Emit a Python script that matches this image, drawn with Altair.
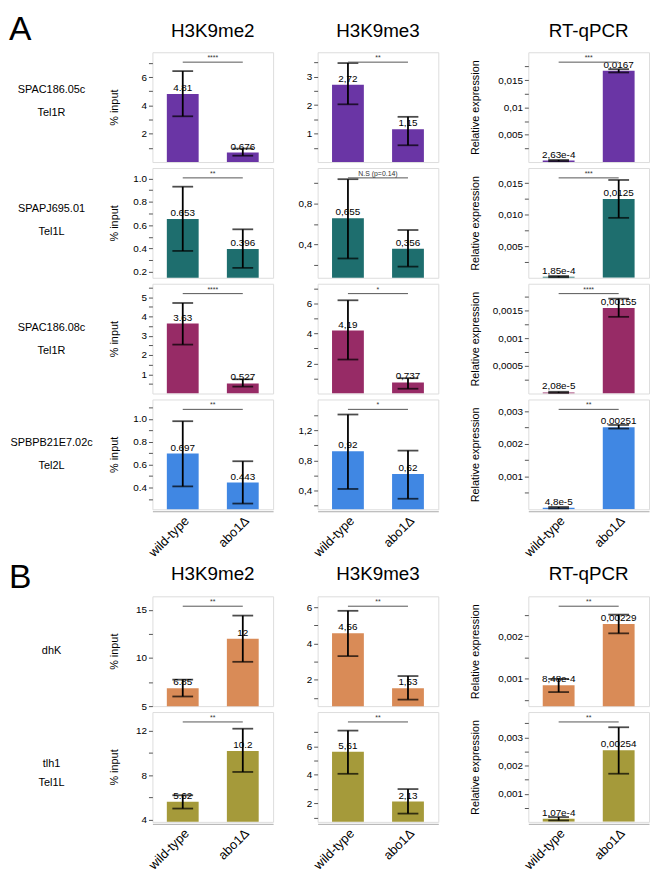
import altair as alt
import pandas as pd

# ---------------- data ----------------
GENOTYPES = ["wild-type", "abo1Δ"]
ROW_LINE1 = ["SPAC186.05c", "SPAPJ695.01", "SPAC186.08c", "SPBPB21E7.02c", "dhK", "tlh1"]
ROW_LINE2 = ["Tel1R", "Tel1L", "Tel1R", "Tel2L", "", "Tel1L"]
COL_TITLES = ["H3K9me2", "H3K9me3", "RT-qPCR"]
SECTION_LETTERS = ["A", "B"]

# H3K9me2 (% input)
ME2_MEAN = [[4.81, 0.676], [0.653, 0.396], [3.63, 0.527], [0.697, 0.443], [6.85, 12.0], [5.62, 10.2]]
ME2_LOW = [[3.23, 0.45], [0.38, 0.235], [2.54, 0.36], [0.41, 0.26], [6.0, 9.6], [5.0, 8.3]]
ME2_HIGH = [[6.42, 0.95], [0.93, 0.565], [4.7, 0.74], [0.98, 0.63], [7.75, 14.4], [6.2, 12.2]]
ME2_TEXT = [["4.81", "0.676"], ["0.653", "0.396"], ["3.63", "0.527"], ["0.697", "0.443"], ["6.85", "12"], ["5.62", "10.2"]]
ME2_SIG = ["****", "**", "****", "**", "**", "**"]
ME2_DOMAIN = [[0, 7.75], [0.15, 1.09], [0, 5.7], [0.21, 1.17], [5, 16.4], [3.8, 13.7]]
ME2_MAJOR = [[2, 4, 6], [0.2, 0.4, 0.6, 0.8, 1.0], [1, 2, 3, 4, 5], [0.4, 0.6, 0.8, 1.0], [5, 10, 15], [4, 8, 12]]
ME2_MINOR = [[1, 3, 5, 7], [0.3, 0.5, 0.7, 0.9], [0.5, 1.5, 2.5, 3.5, 4.5, 5.5], [0.3, 0.5, 0.7, 0.9, 1.1], [7.5, 12.5], [6, 10]]
ME2_FMT = ["~g", ".1f", "~g", ".1f", "~g", "~g"]

# H3K9me3
ME3_MEAN = [[2.72, 1.15], [0.655, 0.356], [4.19, 0.737], [0.92, 0.62], [4.56, 1.53], [5.61, 2.13]]
ME3_LOW = [[2.03, 0.59], [0.26, 0.18], [2.26, 0.32], [0.42, 0.29], [3.3, 0.9], [4.07, 1.28]]
ME3_HIGH = [[3.48, 1.59], [1.04, 0.54], [6.2, 1.02], [1.41, 0.93], [5.8, 2.2], [7.1, 3.0]]
ME3_TEXT = [["2,72", "1,15"], ["0,655", "0,356"], ["4,19", "0,737"], ["0,92", "0,62"], ["4,56", "1,53"], ["5,61", "2,13"]]
ME3_SIG = ["**", "N.S (p=0.14)", "*", "*", "**", "**"]
ME3_DOMAIN = [[0, 3.86], [0.07, 1.15], [0, 7.3], [0.15, 1.61], [0.54, 6.6], [0.7, 8.4]]
ME3_MAJOR = [[1, 2, 3], [0.4, 0.8], [2, 4, 6], [0.4, 0.8, 1.2], [2, 4, 6], [2, 4, 6]]
ME3_MINOR = [[0.5, 1.5, 2.5, 3.5], [0.2, 0.6, 1.0], [1, 3, 5, 7], [0.2, 0.6, 1.0, 1.4], [1, 3, 5], [1, 3, 5, 7]]
ME3_FMT = ["~g", ".1f", "~g", ".1f", "~g", "~g"]

# RT-qPCR (relative expression)
RT_MEAN = [[2.63e-4, 0.0167], [1.85e-4, 0.0125], [2.08e-5, 0.00155], [4.8e-5, 0.00251], [8.48e-4, 0.00229], [1.07e-4, 0.00254]]
RT_LOW = [[1.5e-4, 0.0164], [0.9e-4, 0.0095], [1.0e-5, 0.00139], [2.5e-5, 0.00247], [6.9e-4, 0.00207], [0.5e-4, 0.00171]]
RT_HIGH = [[3.8e-4, 0.0170], [2.8e-4, 0.0155], [3.2e-5, 0.00172], [7.0e-5, 0.00258], [1.0e-3, 0.00251], [1.7e-4, 0.00336]]
RT_TEXT = [["2,63e-4", "0,0167"], ["1,85e-4", "0,0125"], ["2,08e-5", "0,00155"], ["4,8e-5", "0,00251"], ["8,48e-4", "0,00229"], ["1,07e-4", "0,00254"]]
RT_SIG = ["***", "***", "****", "**", "**", "**"]
RT_DOMAIN = [[0, 0.0201], [0, 0.0174], [0, 0.00199], [0, 0.00336], [0.00036, 0.00294], [0, 0.0039]]
RT_MAJOR = [[0.005, 0.01, 0.015], [0.005, 0.010, 0.015], [0.0005, 0.001, 0.0015], [0.001, 0.002, 0.003], [0.001, 0.002], [0.001, 0.002, 0.003]]
RT_MINOR = [[0.0025, 0.0075, 0.0125, 0.0175], [0.0025, 0.0075, 0.0125], [0.00025, 0.00075, 0.00125, 0.00175],
            [0.0005, 0.0015, 0.0025], [0.0005, 0.0015, 0.0025], [0.0005, 0.0015, 0.0025, 0.0035]]
RT_FMT = ["~g", ".3f", "~g", "~g", "~g", "~g"]

# ---------------- style / layout ----------------
BAR_COLORS = ["#6a35a5", "#1e6e6e", "#972b66", "#4087e3", "#d98b57", "#a59a3a"]
FONT = "Liberation Sans"
PW, PH = 122, 111
LABEL_W = 100
LABEL_X = 43
LINE_DY = [(-17, 6), (-14, 9), (-11, 13), (-11, 12), (0, 0), (-3, 16)]
TITLE_Y = [-15, -17]
LETTER_Y = [-39, -35]
GAP_H = 76
NOSTROKE = alt.ViewBackground(stroke="transparent")


def y_axis(major, minor, fmt, sep, title, extent, tpad):
    ticks = sorted(major + minor)
    keys = ",".join("'" + format(m, ".6f") + "'" for m in major)
    expr = ("indexof([" + keys + "], format(datum.value, '.6f')) >= 0 ? "
            "replace(format(datum.value, '" + fmt + "'), '.', '" + sep + "') : ''")
    kw = dict(values=ticks, labelExpr=expr, title=title, grid=False, domain=False,
              tickSize=4, tickColor="#555", tickWidth=1, labelFontSize=10,
              labelPadding=2, labelColor="black", labelFont=FONT)
    if title is not None:
        kw.update(titleFontSize=11, titleFontWeight="normal", titleFont=FONT,
                  titleColor="black", titlePadding=tpad, minExtent=extent, maxExtent=extent)
    return alt.Axis(**kw)


def x_enc(field, show):
    scale = alt.Scale(domain=GENOTYPES, paddingInner=0.47, paddingOuter=0.24)
    if show:
        axis = alt.Axis(labelAngle=-45, title=None, ticks=False, domainColor="#aaa",
                        labelFontSize=13, labelPadding=3, labelColor="black",
                        labelFont=FONT, offset=2)
    else:
        axis = None
    return alt.X(field + ":N", scale=scale, axis=axis)


def panel(r, mean, low, high, text, sig, domain, major, minor, fmt, sep,
          ytitle, extent, tpad, show_x, title, title_y):
    df = pd.DataFrame({"g": GENOTYPES, "v": mean[r], "lo": low[r], "hi": high[r], "t": text[r]})
    sdf = pd.DataFrame({"a": [GENOTYPES[0]], "b": [GENOTYPES[1]], "s": [sig[r]]})
    ys = alt.Scale(domain=domain[r], nice=False, zero=False)
    yax = y_axis(major[r], minor[r], fmt[r], sep, ytitle, extent, tpad)
    X = x_enc("g", show_x)
    base = alt.Chart(df)
    bars = base.mark_bar(clip=True, color=BAR_COLORS[r]).encode(
        x=X, y=alt.Y("v:Q", scale=ys, axis=yax))
    vals = base.mark_text(baseline="bottom", dy=-1, fontSize=10, font=FONT, color="black").encode(
        x=X, y=alt.Y("v:Q", scale=ys, axis=yax), text="t:N")
    err = base.mark_rule(color="black", strokeWidth=1.8).encode(
        x=X, y=alt.Y("lo:Q", scale=ys, axis=yax), y2="hi")
    cap_lo = base.mark_tick(color="black", thickness=1.8, size=21).encode(
        x=X, y=alt.Y("lo:Q", scale=ys, axis=yax))
    cap_hi = base.mark_tick(color="black", thickness=1.8, size=21).encode(
        x=X, y=alt.Y("hi:Q", scale=ys, axis=yax))
    bracket = alt.Chart(sdf).mark_rule(color="#555", strokeWidth=1).encode(
        x=x_enc("a", show_x), x2="b", y=alt.value(10))
    stars = alt.Chart(sdf).mark_text(fontSize=7, color="#333", baseline="bottom", font=FONT).encode(
        x=alt.value(PW / 2), y=alt.value(9), text="s:N")
    layers = [bars, vals, err, cap_lo, cap_hi, bracket, stars]
    if title:
        layers.append(alt.Chart(pd.DataFrame({"t": [title]})).mark_text(
            fontSize=19, font=FONT, color="black", baseline="alphabetic").encode(
            x=alt.value(PW / 2), y=alt.value(title_y), text="t:N"))
    return alt.layer(*layers).properties(width=PW, height=PH)


def label_chart(r, letter=None, letter_y=0):
    layers = [alt.Chart(pd.DataFrame({"t": [ROW_LINE1[r]]})).mark_text(
        fontSize=11, font=FONT, color="black").encode(
        x=alt.value(LABEL_X), y=alt.value(PH / 2 + LINE_DY[r][0]), text="t:N")]
    if ROW_LINE2[r]:
        layers.append(alt.Chart(pd.DataFrame({"t": [ROW_LINE2[r]]})).mark_text(
            fontSize=11, font=FONT, color="black").encode(
            x=alt.value(LABEL_X), y=alt.value(PH / 2 + LINE_DY[r][1]), text="t:N"))
    if letter:
        layers.append(alt.Chart(pd.DataFrame({"t": [letter]})).mark_text(
            fontSize=34, font=FONT, color="black", align="left", baseline="top").encode(
            x=alt.value(0), y=alt.value(letter_y), text="t:N"))
    return alt.layer(*layers).properties(width=LABEL_W, height=PH, view=NOSTROKE)


def spacer(h):
    return alt.Chart(pd.DataFrame({"t": [""]})).mark_text().encode(text="t:N").properties(
        width=1, height=h, view=NOSTROKE)


cells = []
for r in range(6):
    sec = 0 if r < 4 else 1
    top = r in (0, 4)
    bottom = r in (3, 5)
    letter = SECTION_LETTERS[sec] if top else None
    ty = TITLE_Y[sec]
    cells.append(label_chart(r, letter, LETTER_Y[sec]))
    cells.append(panel(r, ME2_MEAN, ME2_LOW, ME2_HIGH, ME2_TEXT, ME2_SIG, ME2_DOMAIN, ME2_MAJOR,
                       ME2_MINOR, ME2_FMT, ".", "% input", 22, 11, bottom,
                       COL_TITLES[0] if top else None, ty))
    cells.append(panel(r, ME3_MEAN, ME3_LOW, ME3_HIGH, ME3_TEXT, ME3_SIG, ME3_DOMAIN, ME3_MAJOR,
                       ME3_MINOR, ME3_FMT, ",", None, 0, 0, bottom,
                       COL_TITLES[1] if top else None, ty))
    cells.append(spacer(PH))
    cells.append(panel(r, RT_MEAN, RT_LOW, RT_HIGH, RT_TEXT, RT_SIG, RT_DOMAIN, RT_MAJOR,
                       RT_MINOR, RT_FMT, ",", "Relative expression", 37, 11, bottom,
                       COL_TITLES[2] if top else None, ty))
    if r == 3:
        cells.extend([spacer(GAP_H) for _ in range(5)])

chart = alt.concat(*cells, columns=5, spacing={"row": 6, "column": 45},
                   align="each", bounds="flush").properties(
    padding=0, background="white"
).configure_view(stroke="#999", strokeWidth=1).configure(font=FONT)

chart.save("out.html", embed_options={"renderer": "svg", "actions": False})
